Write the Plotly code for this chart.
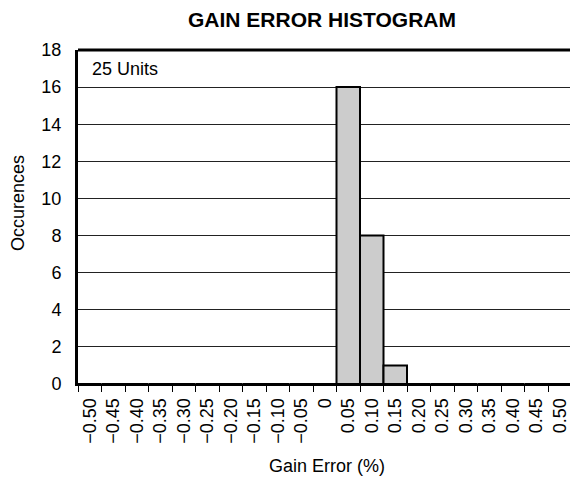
import plotly.graph_objects as go

categories = ["\u22120.50", "\u22120.45", "\u22120.40", "\u22120.35", "\u22120.30", "\u22120.25",
              "\u22120.20", "\u22120.15", "\u22120.10", "\u22120.05", "0", "0.05", "0.10",
              "0.15", "0.20", "0.25", "0.30", "0.35", "0.40", "0.45", "0.50"]
counts = [0, 0, 0, 0, 0, 0, 0, 0, 0, 0, 0, 16, 8, 1, 0, 0, 0, 0, 0, 0, 0]
y_ticks = [0, 2, 4, 6, 8, 10, 12, 14, 16, 18]

FONT = "Liberation Sans, Arial, sans-serif"

W, H = 570, 479
L, R, T, B = 78, 0, 50, 95
pw = W - L - R
ph = H - T - B

fig = go.Figure()
fig.add_trace(go.Bar(
    x=categories, y=counts,
    marker=dict(color="#cccccc", line=dict(color="black", width=2)),
    width=1.0,
))

fig.update_layout(
    width=W, height=H,
    margin=dict(l=L, r=R, t=T, b=B, pad=0),
    paper_bgcolor="white", plot_bgcolor="white",
    showlegend=False,
    bargap=0,
    font=dict(family=FONT, color="black", size=17),
    title=dict(text="<b>GAIN ERROR HISTOGRAM</b>", font=dict(size=21, family=FONT, color="black"),
               x=(322 - L) / pw, xref="paper", xanchor="center",
               y=1 - 20 / H, yref="container", yanchor="middle"),
    xaxis=dict(
        type="category", categoryorder="array", categoryarray=categories,
        range=[-0.5, -0.5 + pw / 23.5],
        showgrid=False, zeroline=False,
        showline=True, linecolor="black", linewidth=2,
        ticks="outside", ticklen=6, tickcolor="black", tickwidth=1,
        tickson="boundaries", ticklabelstandoff=5,
        tickangle=-90, tickfont=dict(size=18, family=FONT, color="black"),
        fixedrange=True,
    ),
    yaxis=dict(
        range=[0, 18], tickvals=y_ticks,
        showgrid=True, gridcolor="#222222", gridwidth=1,
        zeroline=False,
        showline=True, linecolor="black", linewidth=3,
        ticks="", ticklabelstandoff=10,
        tickfont=dict(size=18, family=FONT, color="black"),
        fixedrange=True,
    ),
    shapes=[dict(type="line", xref="paper", yref="paper", x0=0, x1=1.01, y0=1, y1=1,
                 line=dict(color="black", width=3))],
    annotations=[
        dict(text="25 Units", xref="paper", yref="paper", x=(90 - L) / pw, y=(384 - 69) / ph,
             xanchor="left", yanchor="middle", showarrow=False,
             font=dict(size=18, family=FONT, color="black")),
        dict(text="Gain Error (%)", xref="paper", yref="paper", x=(327 - L) / pw, y=(384 - 466) / ph,
             xanchor="center", yanchor="middle", showarrow=False,
             font=dict(size=18, family=FONT, color="black")),
        dict(text="Occurences", xref="paper", yref="paper", x=(18 - L) / pw, y=(384 - 203) / ph,
             xanchor="center", yanchor="middle", showarrow=False, textangle=-90,
             font=dict(size=18, family=FONT, color="black")),
    ],
)

fig.write_html("out.html", config={"displayModeBar": False, "staticPlot": True})

# remove the default body margin so the figure sits at the window's top-left corner
with open("out.html", "r", encoding="utf-8") as f:
    html = f.read()
html = html.replace("<head>", "<head><style>html,body{margin:0;padding:0;overflow:hidden;}</style>", 1)
with open("out.html", "w", encoding="utf-8") as f:
    f.write(html)
